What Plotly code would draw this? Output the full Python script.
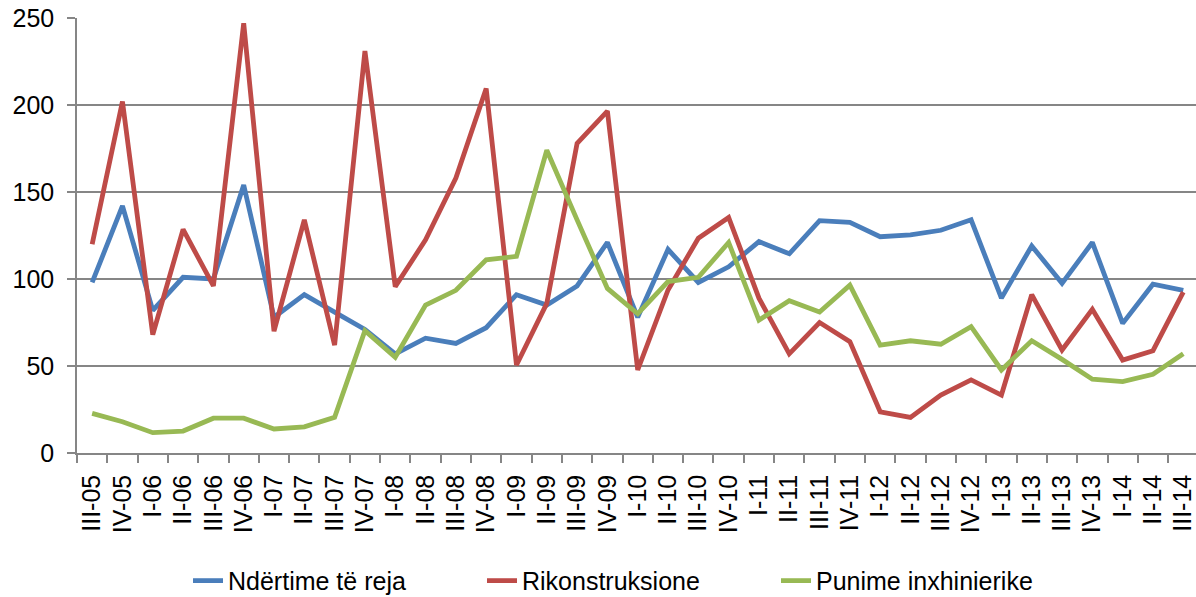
import plotly.graph_objects as go

categories = ["III-05", "IV-05",
              "I-06", "II-06", "III-06", "IV-06",
              "I-07", "II-07", "III-07", "IV-07",
              "I-08", "II-08", "III-08", "IV-08",
              "I-09", "II-09", "III-09", "IV-09",
              "I-10", "II-10", "III-10", "IV-10",
              "I-11", "II-11", "III-11", "IV-11",
              "I-12", "II-12", "III-12", "IV-12",
              "I-13", "II-13", "III-13", "IV-13",
              "I-14", "II-14", "III-14"]

ndertime_te_reja = [98, 142, 82, 101, 100, 154, 78, 91, 81, 71,
                    57, 66, 63, 72, 91, 85, 96, 121, 78, 117,
                    98, 107, 121.5, 114.5, 133.5, 132.5, 124.3, 125.3, 128, 134,
                    89, 119, 97.5, 121, 74.5, 97, 93.5]

rikonstruksione = [120, 202, 68, 128.5, 96, 247, 70, 134, 62, 231,
                   95.6, 122.5, 158, 209.5, 50.6, 86, 178, 196.5, 47.7, 93.7,
                   123.4, 135.4, 89, 57, 75, 64, 23.7, 20.5, 33.3, 42,
                   33.3, 91, 59.2, 82.6, 53.4, 58.8, 92.4]

punime_inxhinierike = [22.8, 18, 11.7, 12.6, 20, 20, 13.8, 15, 20.5, 70.3,
                       55, 85, 93.5, 111, 113, 174, 134, 94.6, 80, 98.5,
                       101, 121, 76.4, 87.5, 81, 96.5, 62, 64.5, 62.5, 72.6,
                       47.7, 64.5, 53.8, 42.4, 41, 45.2, 57]

y_ticks = [0, 50, 100, 150, 200, 250]

series = [
    ("Ndërtime të reja", ndertime_te_reja, "#4A7EBB"),
    ("Rikonstruksione", rikonstruksione, "#BE4B48"),
    ("Punime inxhinierike", punime_inxhinierike, "#98B954"),
]

fig = go.Figure()
for name, vals, color in series:
    fig.add_trace(go.Scatter(
        x=categories, y=vals, name=name, mode="lines",
        line=dict(color=color, width=4.8),
    ))

font = "Liberation Sans, Arial, sans-serif"
FS = 25
fig.update_layout(
    width=1196, height=597,
    margin=dict(l=77, r=0, t=18, b=144, autoexpand=False),
    paper_bgcolor="white", plot_bgcolor="white",
    font=dict(family=font, size=FS, color="black"),
    showlegend=True,
    legend=dict(orientation="h", xref="container", x=0.1572, xanchor="left",
                yref="container", y=0.027, yanchor="middle",
                font=dict(size=FS, family=font), entrywidth=249, traceorder="normal"),
    xaxis=dict(
        type="category", categoryorder="array", categoryarray=categories,
        range=[-0.5, 36.42], automargin=False,
        tickangle=-90, showgrid=False, zeroline=False,
        showline=True, linecolor="#868686", linewidth=1.5,
        ticks="outside", tickson="boundaries", ticklen=8, tickcolor="#868686", tickwidth=1.5,
        ticklabelstandoff=10,
        tickfont=dict(size=FS, family=font),
    ),
    yaxis=dict(
        range=[0, 250], tickvals=y_ticks, showgrid=True, gridcolor="#868686", gridwidth=1.5,
        zeroline=False, showline=True, linecolor="#868686", linewidth=1.5,
        ticks="outside", ticklen=8, tickcolor="#868686", tickwidth=1.5, automargin=False,
        tickfont=dict(size=FS, family=font), ticklabelstandoff=8,
    ),
)

fig.write_html("out.html", config={"displayModeBar": False},
               post_script="document.body.style.margin='0';document.body.style.overflow='hidden';")
